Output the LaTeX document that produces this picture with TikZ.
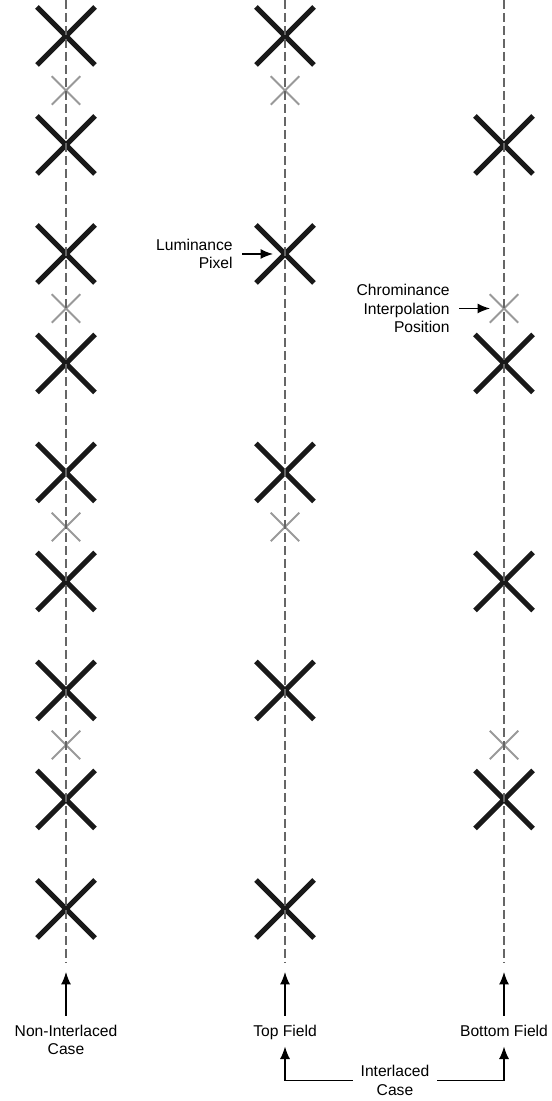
\documentclass[tikz,border=0pt]{standalone}
\usepackage{fontspec}
\setmainfont{Liberation Sans}
\usepackage{tikz}
\usetikzlibrary{arrows.meta,positioning,shapes.misc}
\tikzset{
  lumacross/.style={cross out,draw=black!90,line width=0.1cm,minimum size=1.06cm,inner sep=0pt},
  chromacross/.style={cross out,draw=black!40,line width=0.04cm,minimum size=0.53cm,inner sep=0pt},
  gridline/.style={draw=black!60,line width=0.024cm,dash pattern=on 0.18cm off 0.08cm},
  labelarrow/.style={-{Latex[length=0.25cm,width=0.2cm]},line width=0.026cm},
  figurelabel/.style={font=\fontsize{8.9}{10.5}\selectfont,align=center,inner sep=0pt},
  fieldlabel/.style={figurelabel,text height=0.23cm,text depth=0.07cm,anchor=base}
}

\begin{document}
\begin{tikzpicture}[x=1cm,y=1cm]
  \useasboundingbox (0,0) rectangle (11.02,22.02);
  % non-interlaced case
  \begin{scope}[xshift=1.32cm]
    \node[lumacross] (l0) at (0,21.30) {};
    \node[chromacross] (lc0) at (0,20.21) {};
    \node[lumacross] (l1) at (0,19.12) {};
    \node[lumacross] (l2) at (0,16.94) {};
    \node[chromacross] (lc1) at (0,15.85) {};
    \node[lumacross] (l3) at (0,14.75) {};
    \node[lumacross] (l4) at (0,12.57) {};
    \node[chromacross] (lc2) at (0,11.48) {};
    \node[lumacross] (l5) at (0,10.39) {};
    \node[lumacross] (l6) at (0,8.21) {};
    \node[chromacross] (lc3) at (0,7.12) {};
    \node[lumacross] (l7) at (0,6.03) {};
    \node[lumacross] (l8) at (0,3.84) {};
    \coordinate (ltop) at (0,22.02);
    \coordinate (lend) at (0,2.78);
    \coordinate (ltip) at (0,2.58);
    \node[figurelabel] (nonint) at (0,1.22) {Non-Interlaced\\Case};
  \end{scope}
  % top field
  \begin{scope}[xshift=5.70cm]
    \node[lumacross] (m0) at (0,21.30) {};
    \node[chromacross] (mc0) at (0,20.21) {};
    \node[lumacross] (m2) at (0,16.94) {};
    \node[lumacross] (m4) at (0,12.57) {};
    \node[chromacross] (mc2) at (0,11.48) {};
    \node[lumacross] (m6) at (0,8.21) {};
    \node[lumacross] (m8) at (0,3.84) {};
    \coordinate (mtop) at (0,22.02);
    \coordinate (mend) at (0,2.78);
    \coordinate (mtip) at (0,2.58);
    \node[fieldlabel] (topf) at (0,1.287) {Top Field};
  \end{scope}
  % bottom field
  \begin{scope}[xshift=10.08cm]
    \node[lumacross] (r1) at (0,19.12) {};
    \node[chromacross] (rc1) at (0,15.85) {};
    \node[lumacross] (r3) at (0,14.75) {};
    \node[lumacross] (r5) at (0,10.39) {};
    \node[lumacross] (r7) at (0,6.03) {};
    \node[chromacross] (rc3) at (0,7.12) {};
    \coordinate (rtop) at (0,22.02);
    \coordinate (rend) at (0,2.78);
    \coordinate (rtip) at (0,2.58);
    \node[fieldlabel] (botf) at (0,1.287) {Bottom Field};
  \end{scope}

  \draw[gridline] (ltop) -- (lend);
  \draw[gridline] (mtop) -- (mend);
  \draw[gridline] (rtop) -- (rend);

  \draw[labelarrow,shorten <=0.18cm] (nonint) -- (ltip);
  \draw[labelarrow,shorten <=0.18cm] (topf) -- (mtip);
  \draw[labelarrow,shorten <=0.18cm] (botf) -- (rtip);

  \node[figurelabel,inner xsep=0.15cm] (intl) at (7.90,0.41) {Interlaced\\Case};
  \draw[labelarrow,shorten >=0.12cm] (intl.west) -| (topf.south);
  \draw[labelarrow,shorten >=0.12cm] (intl.east) -| (botf.south);

  \node[figurelabel,align=right,anchor=east] (lumpx) at (4.66,16.94) {Luminance\\Pixel};
  \draw[labelarrow,shorten <=0.18cm,shorten >=0.24cm] (lumpx.east) -- (m2.center);
  \node[figurelabel,align=right,anchor=east] (chrpos) at (9.00,15.85) {Chrominance\\Interpolation\\Position};
  \draw[labelarrow,shorten <=0.18cm,shorten >=0.28cm] (chrpos.east) -- (rc1.center);
\end{tikzpicture}
\end{document}
